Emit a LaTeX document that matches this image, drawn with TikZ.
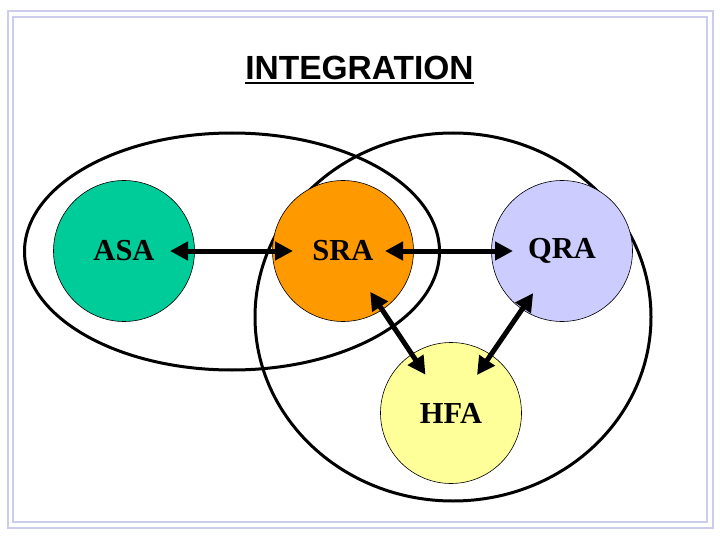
\documentclass[tikz,border=0pt]{standalone}
\usepackage{fontspec}
\setmainfont{Liberation Serif}
\setsansfont{Liberation Sans}
\usetikzlibrary{arrows.meta}

\definecolor{asagreen}{RGB}{0,204,153}
\definecolor{sraorange}{RGB}{255,153,0}
\definecolor{qralilac}{RGB}{204,204,255}
\definecolor{hfayellow}{RGB}{255,255,153}
\definecolor{framelilac}{RGB}{204,204,236}

\begin{document}
\begin{tikzpicture}[x=1pt, y=-1pt,
  field/.style={circle, draw=black, line width=0.6pt, minimum size=141pt,
    inner sep=0pt, font=\bfseries\fontsize{30.5}{36}\selectfont},
  link/.style={{Triangle[length=18pt, width=18pt]}-{Triangle[length=18pt, width=18pt]},
    line width=5pt},
  group/.style={draw=black, line width=3pt}]

  % Page and double frame.
  \fill[white] (0,0) rectangle (720,540);
  \useasboundingbox (0,0) rectangle (720,540);
  \draw[framelilac, line width=2pt] (8,11) rectangle (713,528);
  \draw[framelilac, line width=2pt] (13,17) rectangle (707,522);

  % Title, underlined.
  \node[font=\sffamily\bfseries\fontsize{33.5}{40}\selectfont, inner sep=0pt]
    (title) at (359.5,68) {INTEGRATION};
  \draw[line width=2.5pt] ([yshift=-3pt]title.south west)
    -- ([yshift=-3pt]title.south east);

  % The two groupings.
  \draw[group] (232,251.5) ellipse [x radius=207.5pt, y radius=118.5pt];
  \draw[group] (453,317) ellipse [x radius=198pt, y radius=184pt];

  % Analysis circles.
  \node[field, fill=asagreen]  (asa) at (124,251) {ASA};
  \node[field, fill=sraorange] (sra) at (343,251) {SRA};
  \node[field, fill=qralilac]  (qra) at (562,251) {QRA};
  \node[field, fill=hfayellow] (hfa) at (451,413) {HFA};

  % Links between them.
  \draw[link, shorten <=46pt, shorten >=50pt] (asa.center) -- (sra.center);
  \draw[link, shorten <=42pt, shorten >=49pt] (sra.center) -- (qra.center);
  \draw[link, shorten <=49pt, shorten >=46pt] (sra.center) -- (hfa.center);
  \draw[link, shorten <=51pt, shorten >=46pt] (qra.center) -- (hfa.center);

\end{tikzpicture}
\end{document}
